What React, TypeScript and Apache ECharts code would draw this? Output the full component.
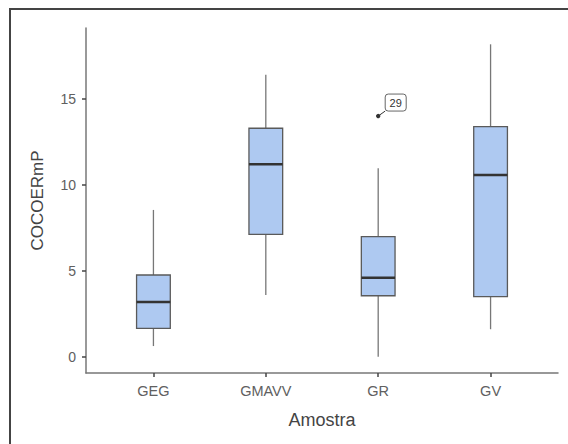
import React, { useEffect, useRef } from "react";
import * as echarts from "echarts";

const categories = ["GEG", "GMAVV", "GR", "GV"];
const whiskerLow = [0.62, 3.6, 0.0, 1.6];
const q1 = [1.65, 7.13, 3.55, 3.5];
const median = [3.19, 11.21, 4.6, 10.59];
const q3 = [4.76, 13.31, 6.99, 13.4];
const whiskerHigh = [8.55, 16.42, 10.98, 18.2];
const outlierCategory = ["GR"];
const outlierValue = [14.02];
const outlierLabel = ["29"];
const yTicks = [0, 5, 10, 15];

const FONT = "'Liberation Sans', Arial, sans-serif";

export default function App() {
  const ref = useRef<HTMLDivElement>(null);
  useEffect(() => {
    if (!ref.current) return;
    const chart = echarts.init(ref.current, null, { renderer: "svg" });
    const boxData = categories.map((c, i) => [
      i + 1,
      whiskerLow[i],
      q1[i],
      median[i],
      q3[i],
      whiskerHigh[i],
    ]);
    const outData = outlierCategory.map((c, i) => [
      categories.indexOf(c) + 1,
      outlierValue[i],
      outlierLabel[i],
    ]);
    const xTickVals = categories.map((_, i) => i + 1);
    chart.setOption({
      animation: false,
      backgroundColor: "#fff",
      grid: { left: 86, right: 10, top: 28, bottom: 71, containLabel: false },
      graphic: [
        {
          type: "rect",
          shape: { x: 10, y: 9, width: 620, height: 500 },
          style: { fill: "none", stroke: "#444", lineWidth: 2 },
          silent: true,
          z: 100,
        },
      ],
      xAxis: {
        type: "value",
        min: 0.4,
        max: 4.6,
        name: "Amostra",
        nameLocation: "middle",
        nameGap: 38,
        nameTextStyle: { fontSize: 18, color: "#444", fontFamily: FONT },
        axisLine: { show: true, onZero: false, lineStyle: { color: "#777", width: 1.5 } },
        axisTick: {
          show: true,
          customValues: xTickVals,
          length: 4,
          lineStyle: { color: "#444", width: 1.5 },
        },
        axisLabel: {
          customValues: xTickVals,
          formatter: (v: number) => categories[Math.round(v) - 1] || "",
          color: "#606060",
          fontSize: 14.5,
          margin: 10,
          fontFamily: FONT,
        },
        splitLine: { show: false },
      },
      yAxis: {
        type: "value",
        min: -0.95,
        max: 19.15,
        name: "COCOERmP",
        nameLocation: "middle",
        nameGap: 40,
        nameRotate: 90,
        nameTextStyle: { fontSize: 17, color: "#444", fontFamily: FONT },
        axisLine: { show: true, onZero: false, lineStyle: { color: "#777", width: 1.5 } },
        axisTick: {
          show: true,
          customValues: yTicks,
          length: 4,
          lineStyle: { color: "#444", width: 1.5 },
        },
        axisLabel: {
          customValues: yTicks,
          color: "#606060",
          fontSize: 14,
          margin: 10,
          fontFamily: FONT,
        },
        splitLine: { show: false },
      },
      series: [
        {
          type: "custom",
          data: boxData,
          encode: { x: 0, y: [1, 2, 3, 4, 5] },
          renderItem: (params: any, api: any) => {
            const x = api.value(0);
            const pLow = api.coord([x, api.value(1)]);
            const pQ1 = api.coord([x, api.value(2)]);
            const pMed = api.coord([x, api.value(3)]);
            const pQ3 = api.coord([x, api.value(4)]);
            const pHigh = api.coord([x, api.value(5)]);
            const hw = api.size([0.3, 0])[0] / 2;
            const cx = pMed[0];
            return {
              type: "group",
              children: [
                {
                  type: "line",
                  shape: { x1: cx, y1: pHigh[1], x2: cx, y2: pQ3[1] },
                  style: { stroke: "#777", lineWidth: 1.3 },
                },
                {
                  type: "line",
                  shape: { x1: cx, y1: pQ1[1], x2: cx, y2: pLow[1] },
                  style: { stroke: "#777", lineWidth: 1.3 },
                },
                {
                  type: "rect",
                  shape: { x: cx - hw, y: pQ3[1], width: hw * 2, height: pQ1[1] - pQ3[1] },
                  style: { fill: "#aec9f1", stroke: "#5a5a5a", lineWidth: 1.3 },
                },
                {
                  type: "line",
                  shape: { x1: cx - hw, y1: pMed[1], x2: cx + hw, y2: pMed[1] },
                  style: { stroke: "#333", lineWidth: 2.5 },
                },
              ],
            };
          },
        },
        {
          type: "custom",
          data: outData,
          encode: { x: 0, y: 1 },
          renderItem: (params: any, api: any) => {
            const p = api.coord([api.value(0), api.value(1)]);
            const label = outData[params.dataIndex][2] as string;
            return {
              type: "group",
              children: [
                {
                  type: "line",
                  shape: { x1: p[0], y1: p[1], x2: p[0] + 7, y2: p[1] - 5 },
                  style: { stroke: "#333", lineWidth: 1 },
                },
                {
                  type: "circle",
                  shape: { cx: p[0], cy: p[1], r: 2.2 },
                  style: { fill: "#333" },
                },
                {
                  type: "rect",
                  shape: { x: p[0] + 7, y: p[1] - 22, width: 21, height: 17, r: 3 },
                  style: { fill: "#fff", stroke: "#666", lineWidth: 1 },
                },
                {
                  type: "text",
                  x: p[0] + 17.5,
                  y: p[1] - 13.5,
                  style: {
                    text: label,
                    fill: "#333",
                    fontSize: 11,
                    fontFamily: FONT,
                    align: "center",
                    verticalAlign: "middle",
                  },
                },
              ],
            };
          },
        },
      ],
    });
    return () => chart.dispose();
  }, []);
  return (
    <div
      ref={ref}
      style={{ position: "fixed", left: 0, top: 0, width: 568, height: 444 }}
    />
  );
}
